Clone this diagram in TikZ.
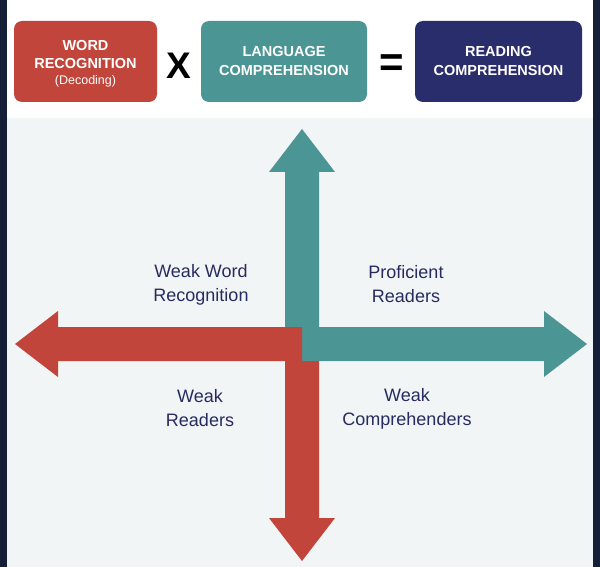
\documentclass[tikz,border=0pt]{standalone}
\usepackage{fontspec}
\setmainfont{Liberation Sans}
\definecolor{wordred}{HTML}{C1453A}
\definecolor{langteal}{HTML}{4B9594}
\definecolor{readnavy}{HTML}{2A2D6B}
\definecolor{labelnavy}{HTML}{272B5F}
\definecolor{framenavy}{HTML}{152038}
\definecolor{panelgray}{HTML}{F2F5F5}
\begin{document}
\begin{tikzpicture}[x=1pt,y=-1pt]
  \tikzstyle{topbox}=[rectangle,rounded corners=8pt,minimum height=81pt,inner sep=0pt,
                      align=center,text=white,font=\bfseries\fontsize{14.5}{19}\selectfont]
  \tikzstyle{opsign}=[inner sep=0pt,font=\bfseries\fontsize{37}{37}\selectfont]
  \tikzstyle{quadlabel}=[align=center,text=labelnavy,font=\fontsize{18}{24}\selectfont]
  \useasboundingbox (0,0) rectangle (600,567);
  % background
  \fill[framenavy] (0,0) rectangle (600,567);
  \fill[white] (7,0) rectangle (593,118);
  \fill[panelgray] (7,118) rectangle (593,567);
  % top row
  \node[topbox,fill=wordred,minimum width=143pt,font=\bfseries\fontsize{14.5}{18}\selectfont]
       (word) at (85.5,61.5)
       {\\[-4pt]WORD\\RECOGNITION\\[-2pt]{\mdseries\fontsize{12.5}{14}\selectfont(Decoding)}};
  \node[opsign] (times) at (179,66) {X};
  \node[topbox,fill=langteal,minimum width=166pt] (lang) at (284,61.5)
       {LANGUAGE\\COMPREHENSION};
  \node[opsign,font=\bfseries\fontsize{42}{42}\selectfont] (equals) at (392,66) {=};
  \node[topbox,fill=readnavy,minimum width=167pt] (read) at (498.5,61.5)
       {READING\\COMPREHENSION};
  % teal arrows (up and right)
  \fill[langteal] (285,327) -- (285,172) -- (269,172) -- (302,129) -- (335,172)
    -- (319,172) -- (319,327) -- (544,327) -- (544,311) -- (587,344) -- (544,377)
    -- (544,361) -- (302,361) -- (302,327) -- cycle;
  % red arrows (left and down)
  \fill[wordred] (302,327) -- (58,327) -- (58,311) -- (15,344) -- (58,377)
    -- (58,361) -- (285,361) -- (285,518) -- (269,518) -- (302,561) -- (335,518)
    -- (319,518) -- (319,361) -- (302,361) -- cycle;
  % quadrant labels
  \node[quadlabel] (weakword) at (201,285) {Weak Word\\Recognition};
  \node[quadlabel] (proficient) at (406,284) {Proficient\\Readers};
  \node[quadlabel] (weakreaders) at (200,408) {Weak\\Readers};
  \node[quadlabel] (weakcomp) at (407,409) {Weak\\Comprehenders};
\end{tikzpicture}
\end{document}
